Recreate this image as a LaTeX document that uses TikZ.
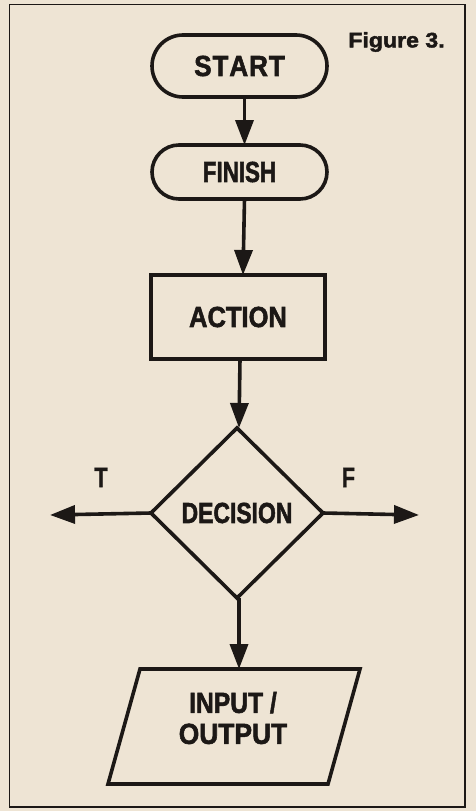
\documentclass[tikz,border=0pt]{standalone}
\usepackage{fontspec}
\setmainfont{Liberation Sans}
\newfontfamily\heavy[FakeBold=2]{Liberation Sans Bold}
\newfontfamily\semiheavy[FakeBold=1]{Liberation Sans Bold}
\usepackage{graphicx}
\usetikzlibrary{arrows.meta,shapes.geometric,shapes.misc}
\definecolor{paper}{RGB}{238,228,212}
\definecolor{ink}{RGB}{28,24,22}
\newcommand{\sx}[2]{\scalebox{#1}[1]{#2}}
\begin{document}
\begin{tikzpicture}[x=1pt,y=-1pt,line join=miter]
\tikzset{
  flow/.style={draw=ink, line width=3.6pt, inner sep=0pt, outer sep=0pt, text=ink,
    font=\heavy\fontsize{29}{30}\selectfont},
  term/.style={flow, rounded rectangle, minimum width=175pt},
  proc/.style={flow, rectangle, minimum width=174pt, minimum height=84pt},
  decide/.style={flow, diamond, minimum width=172pt, minimum height=170pt},
  iobox/.style={rectangle, draw=none, inner sep=0pt, outer sep=0pt,
    minimum width=220pt, minimum height=115pt},
  iolabel/.style={text=ink, inner sep=0pt, align=center,
    font=\heavy\fontsize{29}{31}\selectfont},
  branch/.style={text=ink, inner sep=0pt, font=\semiheavy\fontsize{28}{30}\selectfont},
  caption/.style={text=ink, inner sep=0pt, font=\heavy\fontsize{21}{24}\selectfont},
  arr/.style={draw=ink, line width=3.6pt, -{Triangle[width=18pt,length=25pt]}},
  frame/.style={draw=ink, line width=1.6pt}
}
% paper and frame
\fill[paper] (0,0) rectangle (476,811);
\draw[frame] (9.5,4.5) rectangle (465,807);

% nodes
\node[term, minimum height=62pt] (start) at (239.5,66) {\sx{0.9}{S\kern1pt T\kern1pt A\kern1pt R\kern1pt T}};
\node[term, minimum height=54pt] (finish) at (239.5,172) {\sx{0.77}{FINISH}};
\node[proc] (action) at (238,317) {\sx{0.88}{ACTION}};
\node[decide] (dec) at (237,513) {\sx{0.79}{DECISION}};
\node[iobox] (io) at (234,726.5) {};
\draw[draw=ink, line width=3.6pt]
  ([xshift=16pt]io.north west) -- ([xshift=16pt]io.north east)
  -- ([xshift=-16pt]io.south east) -- ([xshift=-16pt]io.south west) -- cycle;
\node[iolabel] (iotext) at (233,718) {\sx{0.85}{INPUT /}\\[0pt]\sx{0.91}{OUTPUT}};

\node[caption] (fig) at (396.5,42) {\sx{1.1}{Figure 3.}};
\node[branch] (tlab) at (101,477.5) {\sx{0.78}{T}};
\node[branch] (flab) at (348.5,477.5) {\sx{0.78}{F}};

\coordinate (tend) at (50,515);
\coordinate (fend) at (419,515);

% connectors
\draw[arr] ([xshift=5pt]start.south) -- ([xshift=5pt]finish.north);
\draw[arr] ([xshift=5pt]finish.south) -- ([xshift=5pt]action.north);
\draw[arr] ([xshift=2pt]action.south) -- ([xshift=2pt]dec.north);
\draw[arr] (dec.west) -- (tend);
\draw[arr] (dec.east) -- (fend);
\draw[arr] ([xshift=2pt]dec.south) -- ([xshift=5pt]io.north);
\end{tikzpicture}
\end{document}
